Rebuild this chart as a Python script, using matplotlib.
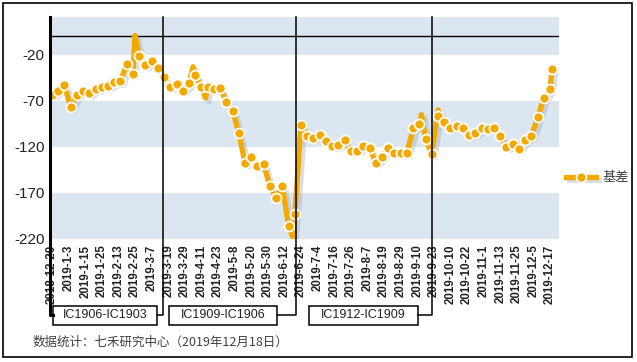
import matplotlib
matplotlib.use('Agg')
import matplotlib.pyplot as plt
import matplotlib.patheffects as pe
from matplotlib.patches import Rectangle
from matplotlib.legend_handler import HandlerTuple
import numpy as np

plt.rcParams['font.family'] = ['Liberation Sans', 'Noto Sans CJK SC', 'DejaVu Sans']
plt.rcParams['axes.unicode_minus'] = False

# basis value every 3 trading days, starting 2018-12-20
basis = [-63.5, -59, -53, -77, -63.5, -59, -62, -57, -54.5, -54,
         -50, -49, -30, -41, -21, -31.5, -27, -34, -44, -55,
         -51.5, -59, -51, -42, -55, -55, -57, -56, -71, -81,
         -104.5, -138, -131, -141, -139, -163, -175, -163, -206, -193,
         -96, -108, -110, -107, -113.5, -119, -118, -113, -125, -124,
         -119, -121, -137, -130.5, -121, -127, -127, -127, -100, -95,
         -111, -128, -87, -93, -99, -97, -99, -107, -105, -99,
         -100.5, -99, -108, -120, -117, -122, -112, -108, -88, -67,
         -57]
step = 3
last_day, last_value = 241, -35          # 2019-12-18
# intraday extremes drawn by the line only (trading day index -> value)
spikes = {40: 1, 68: -33, 74: -67, 116: -218, 178: -85, 186: -80}

tick_labels = ['2018-12-20', '2019-1-3', '2019-1-15', '2019-1-25', '2019-2-13',
               '2019-2-25', '2019-3-7', '2019-3-19', '2019-3-29', '2019-4-11',
               '2019-4-23', '2019-5-8', '2019-5-20', '2019-5-30', '2019-6-12',
               '2019-6-24', '2019-7-4', '2019-7-16', '2019-7-26', '2019-8-7',
               '2019-8-19', '2019-8-29', '2019-9-10', '2019-9-23', '2019-10-10',
               '2019-10-22', '2019-11-1', '2019-11-13', '2019-11-25', '2019-12-5',
               '2019-12-17']
tick_step = 8

# contract switches (trading day index) and their labels
switch_days = [53.5, 117.6, 183.1]
contracts = ['IC1906-IC1903', 'IC1909-IC1906', 'IC1912-IC1909']

mark_x = list(np.arange(len(basis)) * step) + [last_day]
mark_y = basis + [last_value]
pts = dict(zip(mark_x, mark_y))
pts.update(spikes)
line_x = sorted(pts)
line_y = [pts[k] for k in line_x]

W, H = 637, 362
fig = plt.figure(figsize=(W / 100, H / 100), dpi=100)
ax = fig.add_axes([50 / W, 1 - 239 / H, 509 / W, 222 / H])
x0, x1 = -0.96, 244.3
ax.set_xlim(x0, x1)
ax.set_ylim(-220, 21)

band = '#DCE6F1'
for lo, hi in [(-20, 21), (-120, -70), (-220, -170)]:
    ax.axhspan(lo, hi, color=band, lw=0, zorder=0)
ax.axhline(0, color='black', lw=1, zorder=1)

gold = '#F2A900'
ln, = ax.plot(line_x, line_y, color=gold, lw=3.8, solid_joinstyle='round', zorder=3,
              path_effects=[pe.SimpleLineShadow(offset=(2.5, -2.5), shadow_color='#a4abb4', alpha=0.4),
                            pe.Normal()])
mk, = ax.plot(mark_x, mark_y, ls='none', marker='o', ms=7.2, mfc=gold, mec='white',
              mew=1.3, zorder=4)

ax.set_xticks(np.arange(len(tick_labels)) * tick_step)
ax.set_xticklabels(tick_labels, rotation=90, fontsize=8.3, fontweight='bold', color='#222222')
ax.set_yticks([-220, -170, -120, -70, -20])
ax.tick_params(axis='both', length=0, labelsize=11, colors='#222222')
ax.tick_params(axis='x', labelsize=8.3, pad=4)
ax.tick_params(axis='y', pad=4)
for s in ['top', 'right', 'bottom', 'left']:
    ax.spines[s].set_visible(False)

# vertical separators with brackets to the contract boxes
tr = ax.get_xaxis_transform()
y_con = -0.342
box_lo, box_hi = -0.387, -0.302
ax.plot([x0, x0, 0.48], [1.0, y_con, y_con], color='black', lw=2.2, transform=tr, clip_on=False, zorder=5)
box_edges = [(0.48, 50.6), (56.4, 108.4), (123.9, 176.4)]
for sx, (bl, br), name in zip(switch_days, box_edges, contracts):
    ax.plot([sx, sx, br], [1.0, y_con, y_con], color='black', lw=1.1, transform=tr,
            clip_on=False, zorder=5)
    ax.add_patch(Rectangle((bl, box_lo), br - bl, box_hi - box_lo, transform=tr, fill=False,
                           ec='black', lw=1.1, clip_on=False))
    ax.text((bl + br) / 2, (box_lo + box_hi) / 2, name, transform=tr, ha='center', va='center',
            fontsize=9, color='#222222')

leg = ax.legend([(ln, mk)], ['基差'], handler_map={tuple: HandlerTuple(ndivide=1)},
                loc='center left', bbox_to_anchor=(1.0, 0.275), frameon=False,
                handlelength=2.3, handletextpad=0.5, borderaxespad=0.1, fontsize=9.5)
for t in leg.get_texts():
    t.set_color('#404040')
    t.set_family(['Noto Sans CJK SC'])

fig.text(33 / W, 1 - 342 / H, '数据统计：七禾研究中心（2019年12月18日）', fontsize=9,
         color='#404040', va='center', ha='left', family=['Noto Sans CJK SC'])

fig.add_artist(Rectangle((3 / W, 5 / H), 629 / W, 354 / H, transform=fig.transFigure,
                         fill=False, ec='black', lw=1.2))

fig.savefig('out.png', dpi=100)
